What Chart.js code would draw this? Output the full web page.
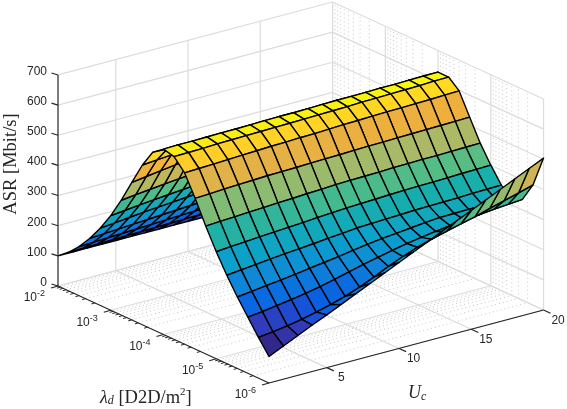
<!DOCTYPE html>
<html><head><meta charset="utf-8">
<style>html,body{margin:0;padding:0;background:#fff}canvas{display:block}</style>
<script src="https://cdn.jsdelivr.net/npm/chart.js@4"></script></head>
<body><canvas id="c" width="567" height="409"></canvas>
<script>
const uValues=[1,2,3,4,5,6,7,8,9,10,11,12,13,14,15,16,17,18,19,20];
const uTicks=[5,10,15,20];
const zTicks=[0,100,200,300,400,500,600,700];
const lambdaExponents=[-2,-3,-4,-5,-6];
// ASR [Mbit/s]: one row per lambda step (5 per decade, 1e-2 to 1e-6), one value per Uc
const asr00=[100,100,100,100,100,100,100,100,100,100,100,100,100,100,100,101,101,101,101,101];
const asr01=[128,129,130,131,132,133,134,135,136,137,138,139,140,141,142,143,144,145,146,147];
const asr02=[163,165,167,169,171,173,175,177,179,181,183,185,186,187,188,189,190,191,192,193];
const asr03=[206,209,212,215,218,221,224,227,230,233,235,237,239,241,243,245,247,249,251,253];
const asr04=[256,261,266,271,275,279,283,287,290,293,296,299,302,305,308,310,312,314,316,318];
const asr05=[314,319,324,329,333,337,341,345,349,353,357,361,364,367,370,373,376,379,381,383];
const asr06=[381,387,392,397,402,406,410,414,418,422,426,430,433,436,439,442,445,448,451,454];
const asr07=[456,463,470,476,482,487,491,495,498,501,503,505,507,509,511,512,513,514,515,516];
const asr08=[530,534,538,541,544,547,549,551,553,555,556,557,558,559,560,561,562,563,564,565];
const asr09=[589,587,587,588,589,590,591,592,593,594,595,595,596,596,597,597,597,598,598,598];
const asr10=[615,616,616,617,618,618,619,620,621,621,622,623,624,624,625,626,626,627,628,628];
const asr11=[606,607,608,610,611,612,613,614,615,616,617,618,619,621,622,623,624,625,627,628];
const asr12=[568,570,572,574,576,578,580,581,583,584,586,588,589,591,592,593,594,595,597,598];
const asr13=[500,502,505,507,509,511,512,513,515,516,517,519,520,521,522,523,524,525,526,527];
const asr14=[424,427,429,432,434,437,439,442,444,447,448,449,450,452,453,454,454,455,456,457];
const asr15=[355,359,362,366,369,372,375,379,382,385,387,389,391,393,394,395,396,398,399,400];
const asr16=[293,298,303,308,313,317,321,326,330,335,337,339,341,343,344,345,346,348,349,350];
const asr17=[237,243,249,255,261,268,275,282,290,297,303,308,313,318,322,323,324,324,325,325];
const asr18=[186,192,199,206,214,224,235,247,259,270,280,290,298,305,311,317,322,327,331,335];
const asr19=[135,141,148,157,168,180,195,213,233,256,276,294,308,321,333,345,359,372,385,399];
const asr20=[88,110,132,154,175,197,219,241,263,285,307,329,351,373,394,416,438,460,482,504];
const asrRows=[asr00,asr01,asr02,asr03,asr04,asr05,asr06,asr07,asr08,asr09,asr10,asr11,asr12,asr13,asr14,asr15,asr16,asr17,asr18,asr19,asr20];
// colour stops: ASR value, r, g, b
const colourStops=[[88,50,40,140],[110,50,52,168],[135,48,60,185],[150,30,75,210],[165,10,95,225],[190,10,105,225],[240,15,135,215],[290,10,160,205],[350,25,175,170],[400,90,190,130],[457,175,185,100],[490,215,180,80],[527,240,175,60],[568,255,205,40],[598,255,218,33],[606,250,235,20],[628,250,248,10]];

// projection of (Uc, log10 lambda, ASR) to the screen scales
const OX=58,OY=286,DU=14.45,DUY=-3.84,DL=52.75,DLY=24.25,DZ=0.3015;
const px=(u,e)=>OX+DU*(u-1)+DL*(-2-e);
const py=(u,e,z)=>OY+DUY*(u-1)+DLY*(-2-e)-DZ*z;
const pt=(u,e,z)=>({x:px(u,e),y:py(u,e,z)});
const datasets=[];
const addLine=(pts,color,w,dash)=>datasets.push({data:pts,showLine:true,borderColor:color,borderWidth:w,borderDash:dash||[],pointRadius:0,fill:false,tension:0,borderCapStyle:'butt'});
const GRID='#dcdcdc',MINOR='#b8b8b8',AX='#262626';
const uMin=1,uMax=20,eA=-2,eB=-6,zMax=700;
const minorFactors=[2,3,4,5,6,7,8,9];
// minor grids
for(let d=-6;d<-2;d++)for(const f of minorFactors){
  const e=d+Math.log10(f);
  addLine([pt(uMin,e,0),pt(uMax,e,0)],MINOR,0.8,[1,3]);
  addLine([pt(uMax,e,0),pt(uMax,e,zMax)],MINOR,0.8,[1,3]);
}
// major grids on walls and floor
for(const z of zTicks){
  addLine([pt(uMin,eA,z),pt(uMax,eA,z)],GRID,1.2);
  addLine([pt(uMax,eA,z),pt(uMax,eB,z)],GRID,1.2);
}
for(const u of uTicks){
  addLine([pt(u,eA,0),pt(u,eA,zMax)],GRID,1.2);
  addLine([pt(u,eA,0),pt(u,eB,0)],GRID,1.2);
}
for(const e of lambdaExponents){
  addLine([pt(uMin,e,0),pt(uMax,e,0)],GRID,1.2);
  addLine([pt(uMax,e,0),pt(uMax,e,zMax)],GRID,1.2);
}
// surface (far cells first)
function colourFor(z){
  for(let k=1;k<colourStops.length;k++){
    if(z<=colourStops[k][0]){
      const a=colourStops[k-1],b=colourStops[k],t=Math.max(0,(z-a[0])/(b[0]-a[0]));
      return `rgb(${[1,2,3].map(c=>Math.round(a[c]+(b[c]-a[c])*t)).join(',')})`;
    }
  }
  return 'rgb(250,248,10)';
}
const eOf=i=>-2-i/5;
for(let i=0;i<asrRows.length-1;i++){
  for(let j=uValues.length-2;j>=0;j--){
    const A=asrRows[i],B=asrRows[i+1],u0=uValues[j],u1=uValues[j+1];
    const c=colourFor(B[j]);
    datasets.push({data:[pt(u0,eOf(i),A[j]),pt(u1,eOf(i),A[j+1]),pt(u1,eOf(i+1),B[j+1]),pt(u0,eOf(i+1),B[j]),pt(u0,eOf(i),A[j])],
      showLine:true,borderColor:'#000',borderWidth:1.4,pointRadius:0,fill:'shape',backgroundColor:c,tension:0,borderJoinStyle:'round'});
  }
}
// axes
addLine([pt(uMin,eA,0),pt(uMin,eA,zMax)],AX,1.2);
addLine([pt(uMin,eA,0),pt(uMin,eB,0)],AX,1.2);
addLine([pt(uMin,eB,0),pt(uMax,eB,0)],AX,1.2);
for(const z of zTicks){const p=pt(uMin,eA,z);addLine([p,{x:p.x-6.5,y:p.y-2}],AX,1.2);}
for(const u of uTicks){const p=pt(u,eB,0);addLine([p,{x:p.x+7,y:p.y+3.2}],AX,1.2);}
for(const e of lambdaExponents){const p=pt(uMin,e,0);addLine([p,{x:p.x-7,y:p.y+2}],AX,1.2);}
for(let d=-6;d<-2;d++)for(const f of minorFactors){const p=pt(uMin,d+Math.log10(f),0);addLine([p,{x:p.x-3.5,y:p.y+1}],AX,1);}
// chart.js draws the first dataset on top
datasets.forEach((d,k)=>{d.order=datasets.length-k;});

const SANS='"Liberation Sans"',SERIF='"Liberation Serif"';
function runs(ctx,x,y,parts,align){
  let w=0;
  for(const p of parts){ctx.font=p.font;w+=ctx.measureText(p.t).width;}
  let cx=align==='right'?x-w:align==='center'?x-w/2:x;
  for(const p of parts){ctx.font=p.font;ctx.fillText(p.t,cx,y+(p.dy||0));cx+=ctx.measureText(p.t).width;}
}
const textPlugin={id:'labels',afterDraw(chart){
  const ctx=chart.ctx;ctx.save();ctx.textBaseline='middle';
  ctx.fillStyle=AX;
  const sx=chart.scales.x,sy=chart.scales.y;
  const P=(x,y)=>[sx.getPixelForValue(x),sy.getPixelForValue(y)];
  ctx.textAlign='left';
  for(const z of zTicks){const p=pt(uMin,eA,z);const [a,b]=P(p.x-11,p.y-3.5);runs(ctx,a,b,[{t:String(z),font:'12px '+SANS}],'right');}
  for(const u of uTicks){const p=pt(u,eB,0);const [a,b]=P(p.x+14.5,p.y+10.5);runs(ctx,a,b,[{t:String(u),font:'12px '+SANS}],'center');}
  for(const e of lambdaExponents){const p=pt(uMin,e,0);const [a,b]=P(p.x-13,p.y+12);
    runs(ctx,a,b,[{t:'10',font:'12px '+SANS},{t:'-'+Math.abs(e),font:'9px '+SANS,dy:-4}],'right');}
  ctx.fillStyle='#262626';
  let [a,b]=P(100,398);
  runs(ctx,a,b,[{t:'λ',font:'italic 18px '+SERIF},{t:'d',font:'italic 12px '+SERIF,dy:3},{t:' [D2D/m',font:'18.5px '+SERIF},{t:'2',font:'11px '+SERIF,dy:-6},{t:']',font:'18.5px '+SERIF}],'left');
  [a,b]=P(408,393);
  runs(ctx,a,b,[{t:'U',font:'italic 18px '+SERIF},{t:'c',font:'italic 12px '+SERIF,dy:4}],'left');
  ctx.translate(...P(11,164));ctx.rotate(-Math.PI/2);
  runs(ctx,0,0,[{t:'ASR [Mbit/s]',font:'18.5px '+SERIF}],'center');
  ctx.restore();
}};
new Chart(document.getElementById('c'),{type:'scatter',data:{datasets},
 options:{responsive:false,animation:false,clip:false,
  layout:{padding:0},
  elements:{line:{capBezierPoints:false}},
  plugins:{legend:{display:false},tooltip:{enabled:false},title:{display:false}},
  events:[],
  scales:{x:{type:'linear',min:0,max:567,display:false},y:{type:'linear',min:0,max:409,reverse:true,display:false}}},
 plugins:[textPlugin]});
</script></body></html>
